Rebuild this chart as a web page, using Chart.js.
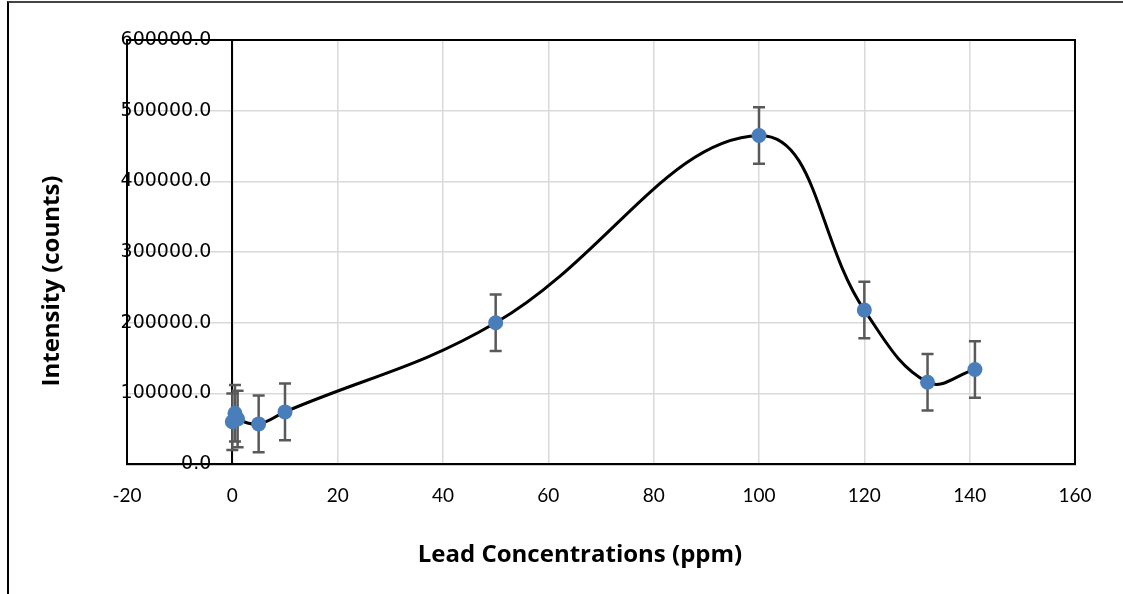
<!DOCTYPE html>
<html>
<head>
<meta charset="utf-8">
<script src="https://cdn.jsdelivr.net/npm/chart.js@4.4.1/dist/chart.umd.min.js"></script>
<style>
  html, body { margin: 0; padding: 0; background: #fff; }
  #wrap { position: relative; width: 1123px; height: 594px; }
  #marco { position: absolute; left: 7px; top: 1px; right: 0; bottom: 0;
           border-left: 2px solid #000; border-top: 2px solid #444; pointer-events: none; }
</style>
</head>
<body>
<div id="wrap">
  <canvas id="grafica" width="1123" height="594"></canvas>
  <div id="marco"></div>
</div>
<script>
'use strict';

/* ── DATOS ── */
const concentraciones = [0, 0.5, 1, 5, 10, 50, 100, 120, 132, 141];
const intensidades    = [60000, 72000, 64000, 57000, 74000, 200000, 465000, 218000, 116000, 134000];
const errores         = [40000, 40000, 40000, 40000, 40000, 40000, 40000, 40000, 40000, 40000];

const ticksX = [-20, 0, 20, 40, 60, 80, 100, 120, 140, 160];
const ticksY = [0, 100000, 200000, 300000, 400000, 500000, 600000];

const tituloX = 'Lead Concentrations (ppm)';
const tituloY = 'Intensity (counts)';

const GRIS_REJILLA = '#d9d9d9';
const FUENTE_TITULO = "bold 24px 'Open Sans'";

/* ── PLUGIN: borde del área de trazado + barras de error ── */
const pluginBarras = {
  id: 'barrasError',
  beforeDatasetsDraw(chart) {
    const { ctx, chartArea: a, scales: { x, y } } = chart;
    ctx.save();
    /* borde negro del área */
    ctx.strokeStyle = '#000';
    ctx.lineWidth = 2;
    ctx.strokeRect(a.left, a.top, a.right - a.left, a.bottom - a.top);

    /* barras de error */
    ctx.strokeStyle = '#595959';
    ctx.lineWidth = 2.5;
    const cap = 6;
    concentraciones.forEach((c, i) => {
      const px  = x.getPixelForValue(c);
      const top = y.getPixelForValue(intensidades[i] + errores[i]);
      const bot = y.getPixelForValue(intensidades[i] - errores[i]);
      ctx.beginPath();
      ctx.moveTo(px, top); ctx.lineTo(px, bot);
      ctx.moveTo(px - cap, top); ctx.lineTo(px + cap, top);
      ctx.moveTo(px - cap, bot); ctx.lineTo(px + cap, bot);
      ctx.stroke();
    });
    ctx.restore();
  }
};

/* ── PLUGIN: títulos de ejes (desplazados como en el original) ── */
const pluginTitulos = {
  id: 'titulosEjes',
  afterDraw(chart) {
    const { ctx } = chart;
    ctx.save();
    ctx.fillStyle = '#000';
    ctx.font = FUENTE_TITULO;
    ctx.textAlign = 'center';
    ctx.textBaseline = 'alphabetic';
    ctx.fillText(tituloX, 580, 562);
    ctx.translate(59, 281);
    ctx.rotate(-Math.PI / 2);
    ctx.fillText(tituloY, 0, 0);
    ctx.restore();
  }
};

const puntos = concentraciones.map((c, i) => ({ x: c, y: intensidades[i] }));

new Chart(document.getElementById('grafica').getContext('2d'), {
  type: 'scatter',
  data: {
    datasets: [{
      data: puntos,
      showLine: true,
      borderColor: '#000',
      borderWidth: 3,
      tension: 0.4,
      pointRadius: 7.5,
      pointBackgroundColor: '#4a7ebb',
      pointBorderColor: '#4a7ebb',
      pointBorderWidth: 0,
      fill: false
    }]
  },
  options: {
    responsive: false,
    animation: false,
    events: [],
    layout: { padding: { left: 127, right: 48, top: 40, bottom: 67 } },
    plugins: { legend: { display: false }, tooltip: { enabled: false } },
    scales: {
      x: {
        type: 'linear',
        min: ticksX[0],
        max: ticksX[ticksX.length - 1],
        afterBuildTicks: s => { s.ticks = ticksX.map(v => ({ value: v })); },
        grid: { color: GRIS_REJILLA, lineWidth: 1.5, drawTicks: false },
        border: { color: '#000', width: 2 },
        ticks: { color: '#000', padding: 20, font: { family: 'Lato', size: 19 } }
      },
      y: {
        type: 'linear',
        position: { x: 0 },
        min: ticksY[0],
        max: ticksY[ticksY.length - 1],
        afterBuildTicks: s => { s.ticks = ticksY.map(v => ({ value: v })); },
        grid: { color: GRIS_REJILLA, lineWidth: 1.5, drawTicks: false },
        border: { color: '#000', width: 2 },
        ticks: { display: false }
      },
      /* eje sólo para las etiquetas, separadas un poco de la línea x=0 */
      yEtiquetas: {
        type: 'linear',
        position: { x: -4 },
        min: ticksY[0],
        max: ticksY[ticksY.length - 1],
        afterBuildTicks: s => { s.ticks = ticksY.map(v => ({ value: v })); },
        grid: { display: false, drawTicks: false },
        border: { display: false },
        ticks: {
          color: '#000', padding: 0,
          font: { family: 'DejaVu Sans', size: 19 },
          callback: v => Number(v).toFixed(1)
        }
      }
    }
  },
  plugins: [pluginBarras, pluginTitulos]
});
</script>
</body>
</html>
